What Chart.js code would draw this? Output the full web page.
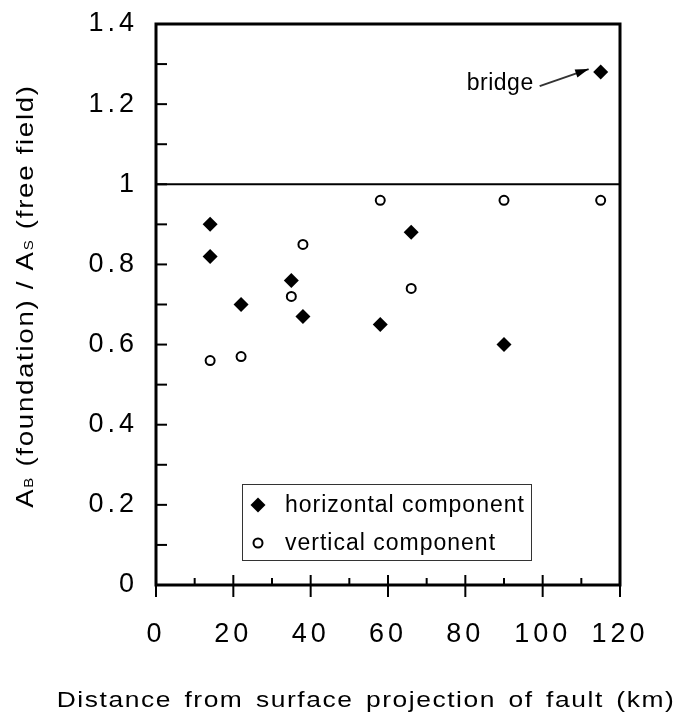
<!DOCTYPE html>
<html>
<head>
<meta charset="utf-8">
<title>Foundation / free field amplitude ratio</title>
<script src="https://cdn.jsdelivr.net/npm/chart.js@4.4.1/dist/chart.umd.min.js"></script>
<style>
  body { margin: 0; background: #fff; }
  canvas { display: block; }
</style>
</head>
<body>
<canvas id="chart" width="680" height="717"></canvas>
<script>
// Data
const distHorizontal = [14, 14, 22, 35, 38, 58, 66, 90, 115];
const ratioHorizontal = [0.90, 0.82, 0.70, 0.76, 0.67, 0.65, 0.88, 0.60, 1.28];
const distVertical = [14, 22, 35, 38, 58, 66, 90, 115];
const ratioVertical = [0.56, 0.57, 0.72, 0.85, 0.96, 0.74, 0.96, 0.96];

const xTickLabels = ['0', '20', '40', '60', '80', '100', '120'];
const yTickLabels = ['0', '0.2', '0.4', '0.6', '0.8', '1', '1.2', '1.4'];
const freeFieldLevel = 1;
const bridgeIndex = 8; // the 115 km point
const seriesNames = ['horizontal component', 'vertical component'];

const FONT = '"Liberation Sans", Arial, Helvetica, sans-serif';

function toPoints(xs, ys) {
    return xs.map((x, i) => ({ x: x, y: ys[i] }));
}

function line(ctx, x1, y1, x2, y2) {
    ctx.beginPath();
    ctx.moveTo(x1, y1);
    ctx.lineTo(x2, y2);
    ctx.stroke();
}

// marker drawn the same way as the datasets
function marker(ctx, ds, x, y) {
    ctx.save();
    ctx.beginPath();
    const r = ds.pointRadius;
    if (ds.pointStyle === 'rectRot') {
        ctx.moveTo(x - r, y);
        ctx.lineTo(x, y - r);
        ctx.lineTo(x + r, y);
        ctx.lineTo(x, y + r);
        ctx.closePath();
    } else {
        ctx.arc(x, y, r, 0, Math.PI * 2);
    }
    ctx.fillStyle = ds.pointBackgroundColor;
    ctx.fill();
    if (ds.pointBorderWidth) {
        ctx.lineWidth = ds.pointBorderWidth;
        ctx.strokeStyle = ds.pointBorderColor;
        ctx.stroke();
    }
    ctx.restore();
}

// tick labels are letter spaced in the original
const spacing = {
    id: 'spacing',
    beforeLayout(chart) { chart.ctx.letterSpacing = '4px'; },
    beforeDraw(chart) { chart.ctx.letterSpacing = '4px'; }
};

// frame, inside ticks and the free field line
const frame = {
    id: 'frame',
    beforeDatasetsDraw(chart) {
        const { ctx, chartArea: a, scales: { x, y } } = chart;
        ctx.save();
        ctx.strokeStyle = '#000';
        ctx.lineWidth = 2;
        y.ticks.forEach(t => {
            const py = y.getPixelForValue(t.value);
            line(ctx, a.left, py, a.left + 11, py);
        });
        x.ticks.forEach(t => {
            const px = x.getPixelForValue(t.value);
            const major = Math.round(t.value) % 20 === 0;
            line(ctx, px, a.bottom - (major ? 10 : 7), px, a.bottom + (major ? 12 : 0));
        });
        const p1 = y.getPixelForValue(freeFieldLevel);
        line(ctx, a.left, p1, a.right, p1);
        ctx.lineWidth = 3;
        ctx.strokeRect(a.left, a.top, a.right - a.left, a.bottom - a.top);
        ctx.restore();
    }
};

// axis titles, legend box, bridge note
const notes = {
    id: 'notes',
    afterDraw(chart) {
        const { ctx, chartArea: a, scales: { x, y } } = chart;
        const sets = chart.data.datasets;
        ctx.save();
        ctx.fillStyle = '#000';
        ctx.strokeStyle = '#000';

        // x title (the original face is wide, so stretch it a little)
        ctx.font = '22px ' + FONT;
        ctx.letterSpacing = '1.3px';
        ctx.wordSpacing = '3px';
        ctx.textAlign = 'center';
        ctx.textBaseline = 'alphabetic';
        ctx.translate(366, 707);
        ctx.scale(1.2, 1);
        ctx.fillText('Distance from surface projection of fault (km)', 0, 0);
        ctx.setTransform(1, 0, 0, 1, 0, 0);
        ctx.wordSpacing = '0px';

        // y title with subscripts
        const parts = [
            ['A', 24, 0], ['B', 13, 0], [' (foundation) / A', 24, 0], ['S', 13, 0], [' (free field)', 24, 0]
        ];
        ctx.letterSpacing = '1.5px';
        let total = 0;
        parts.forEach(p => {
            ctx.font = p[1] + 'px ' + FONT;
            p[2] = ctx.measureText(p[0]).width;
            total += p[2];
        });
        ctx.translate(33, 296);
        ctx.rotate(-Math.PI / 2);
        ctx.scale(1.15, 1);
        ctx.textAlign = 'left';
        let cx = -total / 2;
        parts.forEach(p => {
            ctx.font = p[1] + 'px ' + FONT;
            ctx.fillText(p[0], cx, 0);
            cx += p[2];
        });
        ctx.setTransform(1, 0, 0, 1, 0, 0);

        // legend box
        const lx = a.left + 86, ly = a.top + 460, lw = 289, lh = 76;
        ctx.fillStyle = '#fff';
        ctx.fillRect(lx, ly, lw, lh);
        ctx.lineWidth = 1;
        ctx.strokeStyle = '#333';
        ctx.strokeRect(lx + 0.5, ly + 0.5, lw, lh);
        ctx.fillStyle = '#000';
        ctx.font = '23px ' + FONT;
        ctx.letterSpacing = '1px';
        ctx.textBaseline = 'middle';
        sets.forEach((ds, i) => {
            const ry = ly + 21 + i * 38;
            marker(ctx, ds, lx + 16, ry);
            ctx.fillStyle = '#000';
            ctx.fillText(ds.label, lx + 43, ry + 1);
        });

        // bridge arrow
        const bx = x.getPixelForValue(distHorizontal[bridgeIndex]);
        const by = y.getPixelForValue(ratioHorizontal[bridgeIndex]);
        const tx = bx - 12, ty = by - 3, sx = bx - 61, sy = by + 14;
        ctx.lineWidth = 2;
        line(ctx, sx, sy, tx, ty);
        const ang = Math.atan2(ty - sy, tx - sx);
        ctx.beginPath();
        ctx.moveTo(tx, ty);
        ctx.lineTo(tx - 14 * Math.cos(ang - 0.3), ty - 14 * Math.sin(ang - 0.3));
        ctx.lineTo(tx - 14 * Math.cos(ang + 0.3), ty - 14 * Math.sin(ang + 0.3));
        ctx.closePath();
        ctx.fill();
        ctx.textAlign = 'right';
        ctx.textBaseline = 'alphabetic';
        ctx.letterSpacing = '0.5px';
        ctx.fillText('bridge', bx - 67, by + 18);
        ctx.restore();
    }
};

const ctx = document.getElementById('chart').getContext('2d');
const chart = new Chart(ctx, {
    type: 'scatter',
    data: {
        datasets: [{
            label: seriesNames[0],
            data: toPoints(distHorizontal, ratioHorizontal),
            pointStyle: 'rectRot',
            pointRadius: 7.5,
            pointBackgroundColor: '#000',
            pointBorderColor: '#000',
            pointBorderWidth: 0
        },
        {
            label: seriesNames[1],
            data: toPoints(distVertical, ratioVertical),
            pointStyle: 'circle',
            pointRadius: 4.5,
            pointBackgroundColor: '#fff',
            pointBorderColor: '#000',
            pointBorderWidth: 2
        }]
    },
    options: {
        responsive: false,
        animation: false,
        events: [],
        layout: { padding: { left: 0, top: 24, right: 60, bottom: 0 } },
        plugins: { legend: { display: false }, tooltip: { enabled: false } },
        scales: {
            x: {
                type: 'linear',
                min: 0,
                max: 120,
                afterFit: s => {
                    s.height = 132;
                    s.paddingLeft = 0;
                    s.paddingRight = 0;
                },
                border: { display: false },
                grid: { drawOnChartArea: false, drawTicks: false, display: false },
                ticks: {
                    stepSize: 10,
                    maxTicksLimit: 20,
                    autoSkip: false,
                    maxRotation: 0,
                    minRotation: 0,
                    padding: 33,
                    color: '#000',
                    font: { family: FONT, size: 27 },
                    callback: v => (Math.round(v) % 20 === 0 ? xTickLabels[Math.round(v) / 20] : '')
                }
            },
            y: {
                min: 0,
                max: 1.4,
                afterFit: s => {
                    s.width = 156;
                    s.paddingTop = 0;
                    s.paddingBottom = 0;
                },
                border: { display: false },
                grid: { drawOnChartArea: false, drawTicks: false, display: false },
                ticks: {
                    stepSize: 0.1,
                    maxTicksLimit: 20,
                    autoSkip: false,
                    padding: 18,
                    color: '#000',
                    font: { family: FONT, size: 27 },
                    callback: v => {
                        const i = Math.round(v * 10);
                        return i % 2 === 0 ? yTickLabels[i / 2] : '';
                    }
                }
            }
        }
    },
    plugins: [spacing, frame, notes]
});
</script>
</body>
</html>
